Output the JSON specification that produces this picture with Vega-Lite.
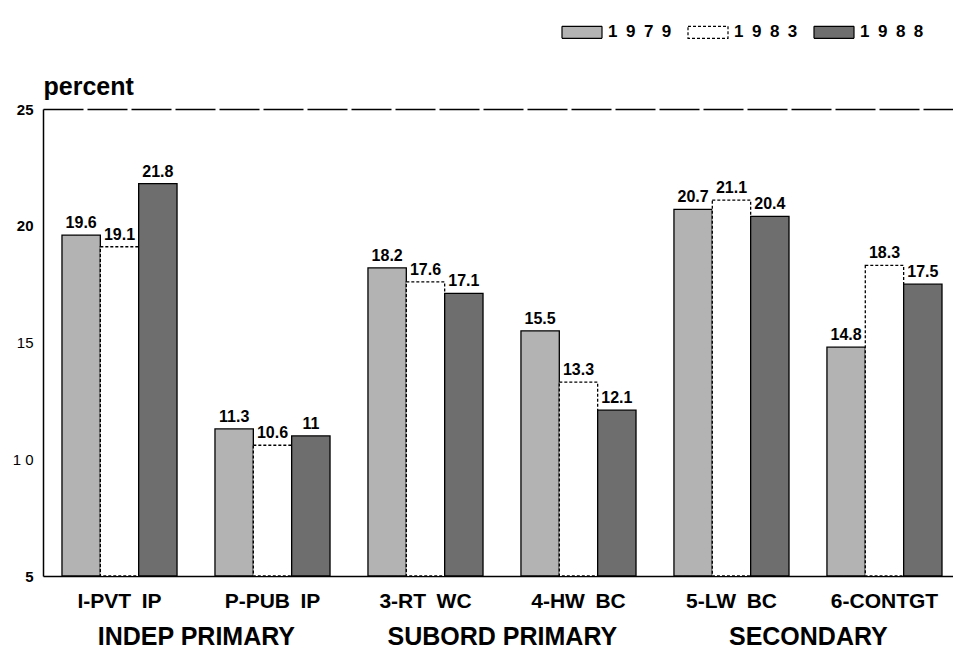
{
  "$schema": "https://vega.github.io/schema/vega-lite/v6.json",
  "background": "white",
  "autosize": {"type": "none"},
  "padding": {"left": 43, "top": 109, "right": 0, "bottom": 81},
  "width": 910,
  "height": 467,
  "config": {
    "view": {"stroke": null},
    "font": "Liberation Sans",
    "axis": {"labelColor": "black", "titleColor": "black", "domainColor": "black", "domainWidth": 1.5}
  },
  "data": {"values": [
    {"cat": "I-PVT IP", "group": "INDEP PRIMARY", "year": "1979", "value": 19.6},
    {"cat": "I-PVT IP", "group": "INDEP PRIMARY", "year": "1983", "value": 19.1},
    {"cat": "I-PVT IP", "group": "INDEP PRIMARY", "year": "1988", "value": 21.8},
    {"cat": "P-PUB IP", "group": "INDEP PRIMARY", "year": "1979", "value": 11.3},
    {"cat": "P-PUB IP", "group": "INDEP PRIMARY", "year": "1983", "value": 10.6},
    {"cat": "P-PUB IP", "group": "INDEP PRIMARY", "year": "1988", "value": 11},
    {"cat": "3-RT WC", "group": "SUBORD PRIMARY", "year": "1979", "value": 18.2},
    {"cat": "3-RT WC", "group": "SUBORD PRIMARY", "year": "1983", "value": 17.6},
    {"cat": "3-RT WC", "group": "SUBORD PRIMARY", "year": "1988", "value": 17.1},
    {"cat": "4-HW BC", "group": "SUBORD PRIMARY", "year": "1979", "value": 15.5},
    {"cat": "4-HW BC", "group": "SUBORD PRIMARY", "year": "1983", "value": 13.3},
    {"cat": "4-HW BC", "group": "SUBORD PRIMARY", "year": "1988", "value": 12.1},
    {"cat": "5-LW BC", "group": "SECONDARY", "year": "1979", "value": 20.7},
    {"cat": "5-LW BC", "group": "SECONDARY", "year": "1983", "value": 21.1},
    {"cat": "5-LW BC", "group": "SECONDARY", "year": "1988", "value": 20.4},
    {"cat": "6-CONTGT", "group": "SECONDARY", "year": "1979", "value": 14.8},
    {"cat": "6-CONTGT", "group": "SECONDARY", "year": "1983", "value": 18.3},
    {"cat": "6-CONTGT", "group": "SECONDARY", "year": "1988", "value": 17.5}
  ]},
  "resolve": {"scale": {"x": "independent"}, "axis": {"x": "independent"}},
  "layer": [
    {
      "encoding": {
        "x": {
          "field": "cat",
          "type": "nominal",
          "sort": ["I-PVT IP", "P-PUB IP", "3-RT WC", "4-HW BC", "5-LW BC", "6-CONTGT"],
          "scale": {"paddingInner": 0.248, "paddingOuter": 0.098, "align": 0.633},
          "axis": {
            "title": null,
            "orient": "bottom",
            "labelAngle": 0,
            "labelFontSize": 21,
            "labelFontWeight": "bold",
            "labelPadding": 14,
            "labelLimit": 300,
            "labelExpr": "replace(datum.label, ' ', '\u2002')",
            "ticks": false
          }
        },
        "xOffset": {
          "field": "year",
          "type": "nominal",
          "sort": ["1979", "1983", "1988"],
          "scale": {"paddingInner": 0, "paddingOuter": 0}
        },
        "y": {
          "field": "value",
          "type": "quantitative",
          "scale": {"domain": [5, 25], "nice": false, "zero": false},
          "axis": {
            "values": [5, 10, 15, 20, 25],
            "title": "percent",
            "titleAngle": 0,
            "titleAlign": "left",
            "titleBaseline": "alphabetic",
            "titleX": 0,
            "titleY": -15,
            "titleFontSize": 25,
            "titleFontWeight": "bold",
            "labelFontSize": 15,
            "labelFontWeight": {"condition": {"test": "datum.value === 10 || datum.value === 15", "value": "normal"}, "value": "bold"},
            "labelExpr": "datum.value === 10 ? '1 0' : datum.label",
            "labelPadding": 10,
            "ticks": false,
            "grid": true,
            "gridColor": "black",
            "gridWidth": 1.3,
            "gridDash": [40, 4],
            "gridOpacity": {"condition": {"test": "datum.value === 25", "value": 1}, "value": 0}
          }
        }
      },
      "layer": [
        {
          "mark": {"type": "bar", "stroke": "black", "strokeWidth": 1.3},
          "encoding": {
            "y2": {"datum": 5},
            "fill": {
              "field": "year",
              "type": "nominal",
              "sort": ["1979", "1983", "1988"],
              "scale": {"range": ["#b3b3b3", "#ffffff", "#6e6e6e"]},
              "legend": {
                "title": null,
                "orient": "none",
                "direction": "horizontal",
                "legendX": 518,
                "legendY": -98,
                "symbolType": "M-1,-0.3H1V0.3H-1Z",
                "symbolSize": 1600,
                "symbolStrokeColor": "black",
                "symbolStrokeWidth": 1.2,
                "symbolOpacity": 1,
                "labelFontSize": 17,
                "labelFontWeight": "bold",
                "labelColor": "black",
                "labelFont": "Liberation Sans",
                "labelOffset": 5,
                "columnPadding": 13,
                "labelExpr": "join(split(datum.label, ''), '\u2002')",
                "encode": {
                  "symbols": {
                    "update": {
                      "strokeDash": {"signal": "datum.value === '1983' ? [3, 2] : [1, 0]"}
                    }
                  }
                }
              }
            },
            "strokeDash": {
              "field": "year",
              "type": "nominal",
              "sort": ["1979", "1983", "1988"],
              "scale": {"range": [[1, 0], [3, 2], [1, 0]]},
              "legend": null
            }
          }
        },
        {
          "mark": {"type": "text", "dy": -7, "baseline": "alphabetic", "fontSize": 16, "fontWeight": "bold", "font": "Liberation Sans", "color": "black"},
          "encoding": {
            "text": {"field": "value", "type": "quantitative"}
          }
        }
      ]
    },
    {
      "mark": {"type": "point", "opacity": 0},
      "encoding": {
        "x": {
          "field": "group",
          "type": "nominal",
          "sort": ["INDEP PRIMARY", "SUBORD PRIMARY", "SECONDARY"],
          "scale": {"type": "point", "padding": 0.487, "align": 0.513},
          "axis": {
            "title": null,
            "orient": "bottom",
            "labelAngle": 0,
            "labelFontSize": 25,
            "labelFontWeight": "bold",
            "labelPadding": 48,
            "labelLimit": 400,
            "domain": false,
            "ticks": false
          }
        },
        "y": {"datum": 5}
      }
    }
  ]
}
